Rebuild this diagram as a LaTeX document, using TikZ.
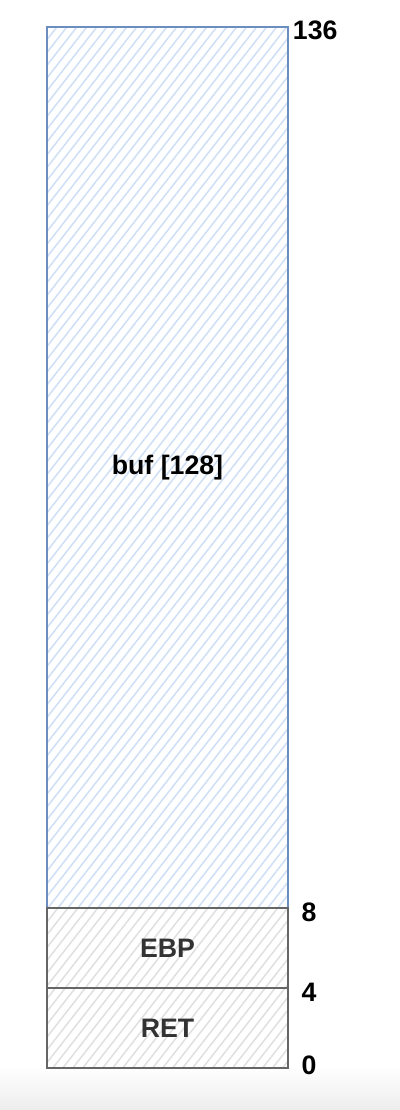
\documentclass[tikz,border=0pt]{standalone}
\usepackage{fontspec}
\setmainfont{Liberation Sans}
\usetikzlibrary{positioning, patterns.meta}
\definecolor{bufline}{HTML}{6C8EBF}
\definecolor{bufhatch}{HTML}{CFDFF6}
\definecolor{regline}{HTML}{666666}
\definecolor{reghatch}{HTML}{E0E0E0}
\definecolor{regtext}{HTML}{333333}
\tikzset{
  cell/.style={rectangle, minimum width=6.025cm, outer sep=0pt, align=center, font=\bfseries\fontsize{19}{22}\selectfont},
  bufcell/.style={cell, minimum height=22.025cm, draw=bufline, line width=0.9pt, pattern={Lines[angle=52, distance=5.6pt, line width=1.1pt]}, pattern color=bufhatch},
  regcell/.style={cell, minimum height=2cm, draw=regline, line width=0.9pt, pattern={Lines[angle=52, distance=5.6pt, line width=1.1pt]}, pattern color=reghatch, text=regtext},
  offset/.style={inner sep=0pt, font=\bfseries\fontsize{19}{22}\selectfont}
}

\begin{document}
\begin{tikzpicture}
    \useasboundingbox (0,0) rectangle (10,27.75);
    \shade[top color=white, bottom color=black!7] (0,0) rectangle (10,1.1);

    \node (buf) [bufcell] at (4.1875,16.0625) {buf [128]};
    \node (ebp) [regcell, below=0pt of buf] {EBP};
    \node (ret) [regcell, below=0pt of ebp] {RET};

    % offsets
    \node (o136) [offset] at ([xshift=0.68cm, yshift=-0.075cm]buf.north east) {136};
    \node (o8) [offset] at ([xshift=0.525cm, yshift=-0.1cm]buf.south east) {8};
    \node (o4) [offset] at ([xshift=0.525cm, yshift=-0.1cm]ebp.south east) {4};
    \node (o0) [offset] at ([xshift=0.525cm, yshift=0.075cm]ret.south east) {0};
\end{tikzpicture}
\end{document}
